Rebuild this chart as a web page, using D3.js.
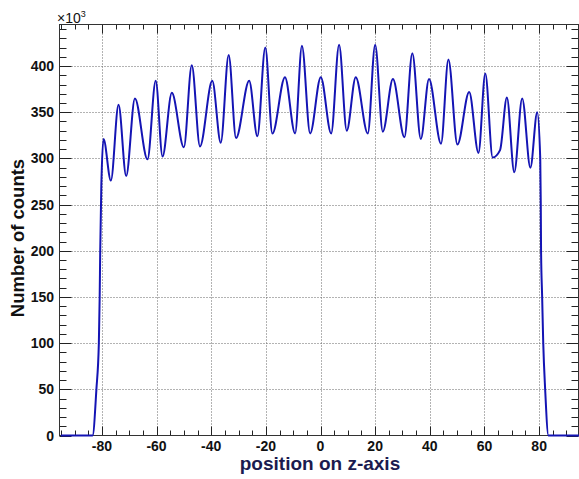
<!DOCTYPE html>
<meta charset="utf-8">
<style>
body { margin: 0; background: #fff; }
svg { display: block; }
.tick-label { font: bold 14px "Liberation Sans", Arial, sans-serif; fill: #111; }
.grid line { stroke: #666; stroke-width: 1; stroke-dasharray: 1,2; }
</style>
<svg width="579" height="479"></svg>
<script src="https://d3js.org/d3.v7.min.js"></script>
<script>
// position on z-axis (cm) and counts (x10^3)
var zPos = [-95, -83.4, -82.0, -81.1, -80.8, -80.6, -80.2, -79.4, -76.7, -73.9, -71.1, -67.9, -63.3, -60.3,
  -57.8, -54.4, -50.0, -47.1, -44.1, -39.6, -36.5, -33.6, -30.9, -26.1, -23.1, -20.2, -17.6, -13.0,
  -9.3, -6.8, -3.8, 0.1, 3.9, 6.8, 9.6, 12.9, 17.3, 20.0, 22.8, 26.5, 30.7, 33.6, 36.7, 39.7, 44.1,
  46.8, 50.1, 54.4, 57.8, 60.3, 63.0, 65.7, 68.2, 70.9, 73.8, 76.8, 79.3, 80.4, 80.6, 80.7, 81.1,
  81.5, 82.2, 83.4, 95];
var counts = [0, 0, 50, 100, 150, 200, 270, 321, 276, 358, 281, 365, 299, 384,
  302, 371, 312, 401, 313, 384, 317, 412, 322, 384, 324, 420, 327, 388,
  327, 422, 327, 388, 327, 423, 330, 388, 327, 423, 329, 386, 323, 414, 321, 386, 316,
  407, 315, 372, 306, 392, 301, 309, 366, 285, 365, 290, 350, 300, 250, 200, 150,
  100, 50, 0, 0];
var xMajor = [-80, -60, -40, -20, 0, 20, 40, 60, 80];
var yMajor = [0, 50, 100, 150, 200, 250, 300, 350, 400];

var svg = d3.select("svg");
var padL = 59.5, padR = 578.5, padT = 24.5, padB = 435.5;

var x = d3.scaleLinear().domain([-95.5, 94.4]).range([padL, padR]);
var y = d3.scaleLinear().domain([0, 445]).range([padB, padT]);

// dotted grid
var grid = svg.append("g").attr("class", "grid");
grid.selectAll(".gx").data(xMajor).enter().append("line")
  .attr("x1", d => Math.round(x(d)) + 0.5).attr("x2", d => Math.round(x(d)) + 0.5)
  .attr("y1", padT).attr("y2", padB);
grid.selectAll(".gy").data(yMajor.slice(1)).enter().append("line")
  .attr("x1", padL).attr("x2", padR)
  .attr("y1", d => Math.round(y(d)) + 0.5).attr("y2", d => Math.round(y(d)) + 0.5);

// ticks in ROOT style (inside the frame, on all four sides)
var xMinor = d3.range(-95, 95.1, 5).filter(v => v % 20 !== 0);
var yMinor = d3.range(10, 441, 10).filter(v => v % 50 !== 0);
var ticks = svg.append("g").attr("stroke", "#222").attr("stroke-width", 1);
function xt(vals, len) {
  vals.forEach(function(v) {
    var px = Math.round(x(v)) + 0.5;
    ticks.append("line").attr("x1", px).attr("x2", px).attr("y1", padB).attr("y2", padB - len);
    ticks.append("line").attr("x1", px).attr("x2", px).attr("y1", padT).attr("y2", padT + len);
  });
}
function yt(vals, len) {
  vals.forEach(function(v) {
    var py = Math.round(y(v)) + 0.5;
    ticks.append("line").attr("x1", padL).attr("x2", padL + len).attr("y1", py).attr("y2", py);
    ticks.append("line").attr("x1", padR).attr("x2", padR - len).attr("y1", py).attr("y2", py);
  });
}
xt(xMajor, 9); xt(xMinor, 5);
yt(yMajor, 12); yt(yMinor, 7);

// frame
svg.append("rect").attr("x", padL).attr("y", padT)
  .attr("width", padR - padL).attr("height", padB - padT)
  .attr("fill", "none").attr("stroke", "#333").attr("stroke-width", 1);

// the curve
var line = d3.line().x((d, i) => x(zPos[i])).y(d => y(d)).curve(d3.curveMonotoneX);
svg.append("path").datum(counts).attr("d", line)
  .attr("fill", "none").attr("stroke", "#1414b4").attr("stroke-width", 2);

// tick labels
svg.selectAll(".xl").data(xMajor).enter().append("text").attr("class", "tick-label")
  .attr("x", d => x(d)).attr("y", 451).attr("text-anchor", "middle").text(d => d);
svg.selectAll(".yl").data(yMajor).enter().append("text").attr("class", "tick-label")
  .attr("x", 54).attr("y", d => y(d) + 5).attr("text-anchor", "end").text(d => d);

// exponent
var ex = svg.append("text").attr("x", 57).attr("y", 23)
  .style("font", "14px 'Liberation Sans', Arial, sans-serif").attr("fill", "#111");
ex.append("tspan").text("\u00d710");
ex.append("tspan").attr("dy", -6).style("font-size", "9px").text("3");

// axis titles
svg.append("text").attr("x", (padL + padR) / 2 + 1).attr("y", 470).attr("text-anchor", "middle")
  .style("font", "bold 19px 'Liberation Sans', Arial, sans-serif").attr("fill", "#1b1b4f")
  .text("position on z-axis");
svg.append("text").attr("transform", "translate(24,238) rotate(-90)").attr("text-anchor", "middle")
  .style("font", "bold 18.5px 'Liberation Sans', Arial, sans-serif").attr("fill", "#111")
  .text("Number of counts");
</script>
